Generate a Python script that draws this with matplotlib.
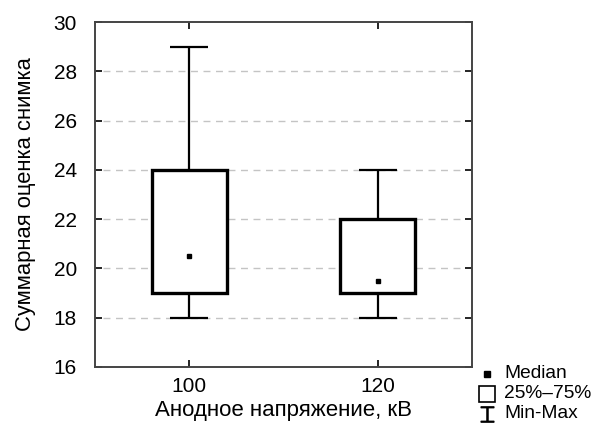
import matplotlib.pyplot as plt
from matplotlib.lines import Line2D

plt.rcParams['font.family'] = ['Liberation Sans', 'DejaVu Sans']

groups = ['100', '120']
medians = [20.5, 19.5]
q1 = [19, 19]
q3 = [24, 22]
mins = [18, 18]
maxs = [29, 24]

fig = plt.figure(figsize=(5.94, 4.30), dpi=100)
ax = fig.add_axes([95 / 594, 1 - 367 / 430, 377 / 594, 345 / 430])

pos = [1, 2]
box_w = 0.4
cap_w = 0.2
for x, md, lo, hi, mn, mx in zip(pos, medians, q1, q3, mins, maxs):
    ax.vlines(x, mn, lo, color='black', lw=1.6, zorder=2)
    ax.vlines(x, hi, mx, color='black', lw=1.6, zorder=2)
    ax.hlines([mn, mx], x - cap_w / 2, x + cap_w / 2, color='black', lw=1.6, zorder=2)
    ax.add_patch(plt.Rectangle((x - box_w / 2, lo), box_w, hi - lo,
                               facecolor='white', edgecolor='black', lw=2.4, zorder=3))
    ax.plot(x, md, 's', color='black', ms=3.2, zorder=4)

ax.set_xlim(0.5, 2.5)
ax.set_ylim(16, 30)
ax.set_xticks(pos)
ax.set_xticklabels(groups)
ax.set_yticks(range(16, 31, 2))
for y in range(18, 30, 2):
    ax.axhline(y, xmin=0.02, xmax=0.98, color='#c4c4c4', lw=1,
               ls=(0, (5, 4)), zorder=1)

for s in ax.spines.values():
    s.set_color('#444444')
    s.set_linewidth(1.4)
ax.tick_params(direction='in', top=True, right=True, length=5, width=1.2,
               labelsize=15)
ax.tick_params(axis='y', pad=13)
ax.tick_params(axis='x', pad=7)

ax.set_xlabel('Анодное напряжение, кВ', fontsize=16, labelpad=3)
ax.set_ylabel('Суммарная оценка снимка', fontsize=15.8, labelpad=13)

# legend drawn below the right corner of the plot
lx, tx = 487 / 594, 504 / 594
ys = [1 - 374 / 430, 1 - 394 / 430, 1 - 414 / 430]
fig.add_artist(Line2D([lx], [ys[0]], marker='s', ms=4, color='black',
                      transform=fig.transFigure))
fig.add_artist(Line2D([lx], [ys[1]], marker='s', ms=11, mfc='white', mec='black',
                      mew=1.2, transform=fig.transFigure))
fig.add_artist(Line2D([lx], [ys[2]], marker='$\u2336$', ms=11, color='black',
                      transform=fig.transFigure))
for y, t in zip(ys, ['Median', '25%–75%', 'Min-Max']):
    fig.text(tx, y, t, fontsize=13.8, va='center', ha='left')

fig.savefig('out.png', dpi=100)
